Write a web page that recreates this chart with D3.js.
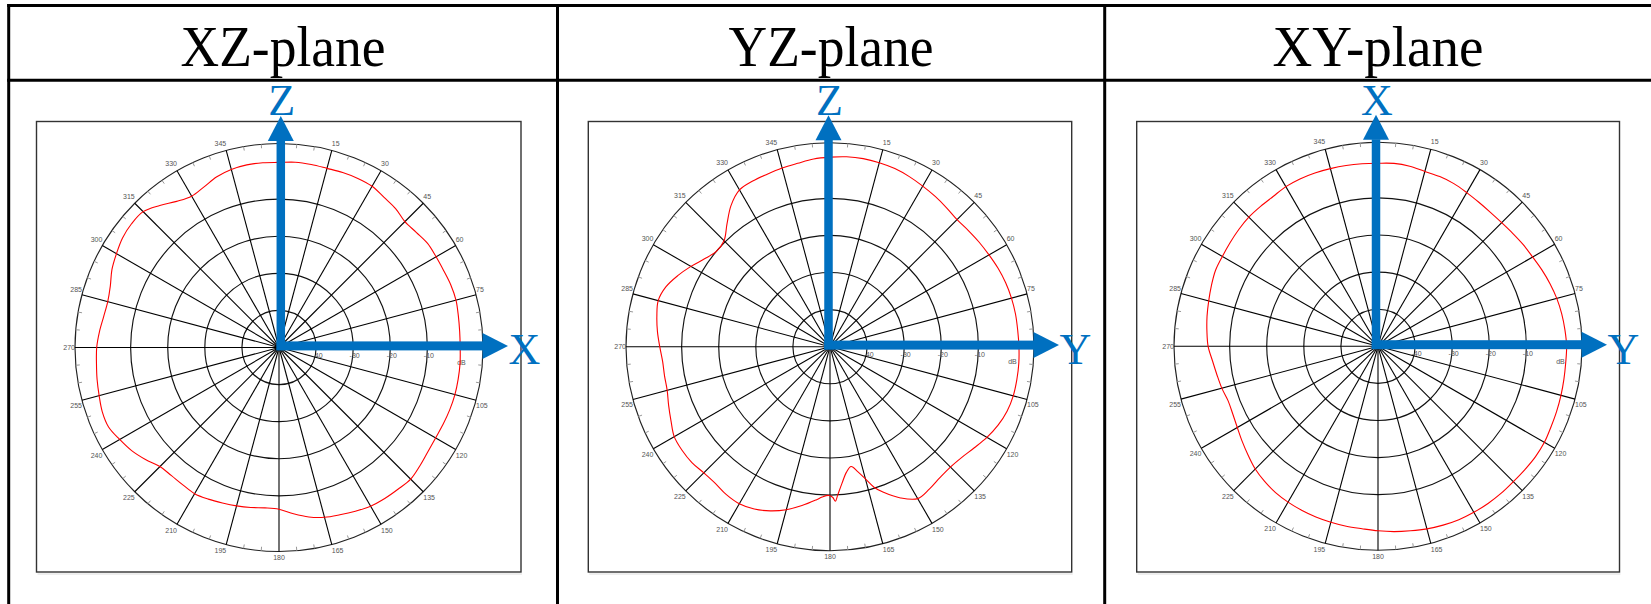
<!DOCTYPE html>
<html><head><meta charset="utf-8">
<script src="https://cdn.jsdelivr.net/npm/d3@7"></script>
<style>body{margin:0;background:#fff}svg{display:block}</style>
</head><body>
<svg id="c" width="1651" height="604"></svg>
<script>
// ---------- data ----------
const titles = ["XZ-plane", "YZ-plane", "XY-plane"];
const upLabels = ["Z", "Z", "X"];
const rightLabels = ["X", "Y", "Y"];
const angleTicks = [0,15,30,45,60,75,90,105,120,135,150,165,180,195,210,225,240,255,270,285,300,315,330,345];
const ringTicks = [-40, -30, -20, -10];
const unitLabel = "dB";

const angles5 = [0,5,10,15,20,25,30,35,40,45,50,55,60,65,70,75,80,85,
  90,95,100,105,110,115,120,125,130,135,140,145,150,155,160,165,170,175,
  180,185,190,195,200,205,210,215,220,225,230,235,240,245,250,255,260,265,
  270,275,280,285,290,295,300,305,310,315,320,325,330,335,340,345,350,355];

const xzValues = [-0.1,0.15,0.1,0.0,0.2,0.3,0.2,-0.6,-1.1,-2.0,-1.7,-1.1,-1.1,-1.0,-0.7,-0.6,-0.9,-1.1,
  -1.15,-1.0,-0.95,-0.9,-1.0,-1.15,-1.25,-1.0,-0.4,0.2,-0.1,-0.3,-0.6,-1.3,-2.0,-2.6,-3.6,-5.0,
  -6.4,-6.6,-6.2,-5.8,-5.4,-4.9,-4.5,-4.8,-4.9,-4.6,-3.0,-1.5,-0.4,0.7,0.7,0.2,-0.2,-0.6,
  -0.85,-1.4,-2.0,-2.2,-1.6,-0.3,0.6,1.5,1.9,1.8,0.0,-1.9,-2.9,-2.2,-1.0,-0.3,0.0,0.0];

const yzAngles = [0,5,10,15,20,25,30,35,40,45,50,55,60,65,70,75,80,85,
  90,95,100,105,110,115,120,125,130,135,140,145,150,155,
  160,162.5,165,167.5,170,172.5,175,177,178,179,180.5,183,185,
  190,195,200,205,210,215,220,225,230,235,240,245,250,255,260,265,
  270,275,280,285,290,295,300,305,310,315,320,325,330,335,340,345,350,355];
const yzValues = [1.1,1.4,1.5,1.35,1.1,0.6,0.0,-0.55,-1.1,-1.55,-1.3,-0.9,-0.5,0.0,0.4,0.65,0.78,0.8,
  0.94,1.1,1.15,1.15,0.8,0.0,-1.15,-2.5,-3.6,-4.1,-3.9,-3.2,-2.7,-5.0,
  -8.3,-10.2,-13.1,-15.5,-17.2,-15.9,-13.0,-10.0,-8.3,-9.4,-9.9,-9.4,-8.6,
  -6.5,-4.5,-2.9,-1.7,-1.1,-1.3,-1.9,-1.9,-1.4,-1.3,-1.5,-2.7,-3.7,-4.55,-4.7,-4.7,
  -4.1,-3.3,-2.6,-2.05,-2.9,-4.7,-6.7,-8.7,-10.0,-9.6,-6.8,-3.5,-1.2,-0.7,-0.5,-0.15,0.2,0.8];

const xyValues = [-0.65,-0.5,-0.7,-1.2,-1.3,-1.6,-2.15,-2.6,-2.85,-2.85,-2.6,-2.2,-1.85,-1.25,-0.65,-0.1,0.3,0.59,
  0.85,0.8,0.9,1.07,1.25,1.45,1.8,1.85,1.7,1.6,1.7,1.72,1.67,1.57,1.3,0.95,0.5,0.15,
  -0.25,-0.63,-0.75,-0.9,-1.05,-1.25,-1.5,-1.85,-2.45,-3.2,-4.3,-5.3,-6.2,-6.8,-7.0,-6.4,-5.9,-5.2,
  -4.2,-3.7,-3.2,-2.75,-2.2,-1.65,-1.55,-1.3,-1.0,-0.75,-0.75,-0.7,-0.3,-0.2,-0.25,-0.4,-0.5,-0.6];

// ---------- layout ----------
const svg = d3.select("#c");
const BLUE = "#0070C0";
const R = 204;
const rScale = d3.scaleLinear().domain([-50, 5]).range([0, R]);
const toRad = a => a * Math.PI / 180;

const panels = [
  {left: 36.5, right: 521, cx: 279, cy: 347.5, ax: 1.8, angles: angles5, values: xzValues, tx: 283, tl: 205},
  {left: 588.3, right: 1071.7, cx: 830, cy: 346.7, ax: -1.5, angles: yzAngles, values: yzValues, tx: 831, tl: 205},
  {left: 1136.7, right: 1619.5, cx: 1378, cy: 346.3, ax: -2, angles: angles5, values: xyValues, tx: 1378, tl: 211}
];

// table
const tbl = svg.append("g").attr("stroke", "#000").attr("stroke-width", 3);
tbl.append("line").attr("x1", 7.2).attr("x2", 1651).attr("y1", 5.5).attr("y2", 5.5);
tbl.append("line").attr("x1", 7.2).attr("x2", 1651).attr("y1", 80.3).attr("y2", 80.3);
[8.7, 557.5, 1104.7].forEach(x => tbl.append("line").attr("x1", x).attr("x2", x).attr("y1", 4).attr("y2", 604));

panels.forEach((p, i) => {
  svg.append("text").attr("x", p.tx).attr("y", 65.7).attr("text-anchor", "middle")
    .attr("font-family", "'Liberation Serif','Times New Roman',serif").attr("font-size", 56)
    .attr("textLength", p.tl).attr("lengthAdjust", "spacingAndGlyphs")
    .text(titles[i]);

  // frame
  svg.append("rect").attr("x", p.left).attr("y", 121.5).attr("width", p.right - p.left).attr("height", 572 - 121.5)
    .attr("fill", "none").attr("stroke", "#333").attr("stroke-width", 1.4);
  svg.append("line").attr("x1", p.left + 1).attr("x2", p.right + 1).attr("y1", 574).attr("y2", 574)
    .attr("stroke", "#ddd").attr("stroke-width", 1);

  const g = svg.append("g").attr("transform", `translate(${p.cx},${p.cy})`);

  // rings
  ringTicks.concat([5]).forEach(v => {
    g.append("circle").attr("r", rScale(v)).attr("fill", "none")
      .attr("stroke", v === 5 ? "#222" : "#111").attr("stroke-width", 1.15);
  });
  // spokes
  angleTicks.forEach(a => {
    const [x, y] = d3.pointRadial(toRad(a), R);
    g.append("line").attr("x1", 0).attr("y1", 0).attr("x2", x).attr("y2", y)
      .attr("stroke", "#000").attr("stroke-width", 1.1);
  });
  // minor ticks
  d3.range(0, 360, 5).filter(a => a % 15 !== 0).forEach(a => {
    const [x1, y1] = d3.pointRadial(toRad(a), R - 4);
    const [x2, y2] = d3.pointRadial(toRad(a), R);
    g.append("line").attr("x1", x1).attr("y1", y1).attr("x2", x2).attr("y2", y2)
      .attr("stroke", "#999").attr("stroke-width", 1);
  });
  // angle labels
  angleTicks.forEach(a => {
    const [x, y] = d3.pointRadial(toRad(a), R);
    const s = Math.sin(toRad(a)), c = Math.cos(toRad(a));
    const anchor = s > 0.01 ? "start" : (s < -0.01 ? "end" : "middle");
    let by;
    if (c > 0.01) by = y - 2 - 3 * Math.abs(c);
    else if (c < -0.01) by = y + 7.5 + Math.abs(c);
    else by = y + 2.5;
    g.append("text").attr("x", x).attr("y", by).attr("text-anchor", anchor)
      .attr("font-family", "'Liberation Sans',Arial,sans-serif").attr("font-size", 7)
      .attr("fill", "#555").text(a);
  });
  // ring labels
  ringTicks.forEach(v => {
    g.append("text").attr("x", rScale(v) + 1.5).attr("y", 10).attr("text-anchor", "middle")
      .attr("font-family", "'Liberation Sans',Arial,sans-serif").attr("font-size", 7)
      .attr("fill", "#555").text(v);
  });
  g.append("text").attr("x", rScale(0) - 3).attr("y", 17.5).attr("text-anchor", "middle")
    .attr("font-family", "'Liberation Sans',Arial,sans-serif").attr("font-size", 7)
    .attr("fill", "#555").text(unitLabel);

  // pattern
  const pts = p.angles.map((a, k) => ({a: a, v: p.values[k]}));
  const line = d3.lineRadial().angle(d => toRad(d.a)).radius(d => rScale(d.v))
    .curve(d3.curveCatmullRomClosed.alpha(0.5));
  g.append("path").attr("d", line(pts)).attr("fill", "none").attr("stroke", "#ff0000").attr("stroke-width", 1.1);

  // arrows
  const ax = p.ax, ay = -1.6, hw = 4.25;
  g.append("rect").attr("x", ax - hw).attr("y", -207).attr("width", 2 * hw).attr("height", 207 + ay + hw).attr("fill", BLUE);
  g.append("rect").attr("x", ax - hw).attr("y", ay - hw - 0.25).attr("width", 204 - (ax - hw)).attr("height", 2 * hw + 0.5).attr("fill", BLUE);
  g.append("path").attr("d", `M${ax - 13},-206.5L${ax + 13},-206.5L${ax},-231.5Z`).attr("fill", BLUE);
  g.append("path").attr("d", `M203.5,${ay - 13}L203.5,${ay + 13}L229,${ay}Z`).attr("fill", BLUE);

  g.append("text").attr("x", ax + 1).attr("y", 115 - p.cy).attr("text-anchor", "middle")
    .attr("font-family", "'Liberation Serif','Times New Roman',serif").attr("font-size", 44)
    .attr("fill", BLUE).text(upLabels[i]);
  g.append("text").attr("x", 229.5).attr("y", 364 - p.cy).attr("text-anchor", "start")
    .attr("font-family", "'Liberation Serif','Times New Roman',serif").attr("font-size", 44)
    .attr("fill", BLUE).text(rightLabels[i]);
});
</script>
</body></html>
